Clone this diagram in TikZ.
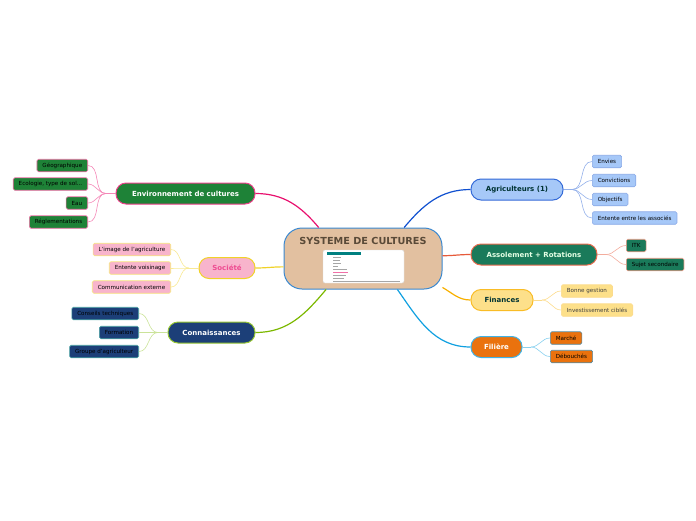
\documentclass[tikz,border=0pt]{standalone}
\usepackage{fontspec}
\setmainfont{DejaVu Sans}
\usetikzlibrary{arrows.meta,positioning,calc}
\definecolor{envgreen}{RGB}{30,130,55}
\definecolor{envpink}{RGB}{232,16,110}
\definecolor{socpink}{RGB}{248,180,204}
\definecolor{socyellow}{RGB}{240,210,40}
\definecolor{connblue}{RGB}{28,63,120}
\definecolor{conngreen}{RGB}{124,184,0}
\definecolor{agrblue}{RGB}{166,200,248}
\definecolor{agrline}{RGB}{16,80,208}
\definecolor{assteal}{RGB}{26,122,90}
\definecolor{assorange}{RGB}{230,90,58}
\definecolor{finyellow}{RGB}{253,224,138}
\definecolor{finline}{RGB}{248,176,0}
\definecolor{filorange}{RGB}{234,114,14}
\definecolor{filcyan}{RGB}{16,160,224}
\definecolor{systan}{RGB}{226,192,160}
\definecolor{sysblue}{RGB}{58,136,208}
\definecolor{systext}{RGB}{90,74,56}

\begin{document}
\begin{tikzpicture}[x=1pt,y=-1pt,
  topic/.style={draw,rounded corners=10pt,line width=1pt,minimum height=21pt,inner xsep=8pt,font=\fontsize{7}{8}\selectfont\bfseries},
  leaf/.style={draw,rounded corners=1.5pt,line width=0.6pt,minimum height=12.5pt,inner xsep=5.5pt,inner ysep=1pt,font=\fontsize{5.6}{6.5}\selectfont},
  link/.style={line width=1.2pt},
  twig/.style={line width=0.6pt}]
  \useasboundingbox (0,0) rectangle (696,520);

  % centre
  \node[draw=sysblue,fill=systan,line width=1pt,rounded corners=18pt,minimum width=158pt,minimum height=61pt] (sys) at (363,258.5) {};
  \node[font=\fontsize{9.7}{11}\selectfont\bfseries,text=systext] (systitle) at (363,240.5) {SYSTEME DE CULTURES};
  \node[draw=black!15,fill=white,rounded corners=2pt,minimum width=81pt,minimum height=33pt] (sysimg) at (363.5,266.5) {};
  \fill[teal] (327,252) rectangle (361,254.5);
  \foreach \y/\w in {257/8,260/7,263/8,266/5,269/14,272/15,275/13,278/11}
    \draw[black!35,line width=0.5pt] (333,\y) -- ++(\w,0);
  \draw[envpink!60,line width=0.5pt] (333,272) -- ++(15,0);
  \draw[black!35,line width=0.5pt] (333,281) -- (400,281);

  % topics
  \node[topic,fill=envgreen,draw=envpink!80,text=white,minimum width=139pt] (env) at (185.5,193.5) {Environnement de cultures};
  \node[topic,fill=socpink,draw=socyellow,text=envpink!75,minimum width=56pt] (soc) at (227,268) {Société};
  \node[topic,fill=connblue,draw=conngreen!80,text=white,minimum width=87pt] (conn) at (211.5,332.5) {Connaissances};
  \node[topic,fill=agrblue,draw=agrline!85,text=teal!40!black,minimum width=92pt] (agr) at (517,189.5) {Agriculteurs (1)};
  \node[topic,fill=assteal,draw=assorange!90,text=green!10,minimum width=126pt] (ass) at (534,254.5) {Assolement + Rotations};
  \node[topic,fill=finyellow,draw=finline!85,text=teal!40!black,minimum width=62pt] (fin) at (502,300) {Finances};
  \node[topic,fill=filorange,draw=filcyan!80,text=white,minimum width=51pt] (fil) at (496.5,347) {Filière};

  \draw[link,envpink] (sys.145) to[out=130,in=0] (env.east);
  \draw[link,socyellow] (sys.186) to[out=180,in=0] (soc.east);
  \draw[link,conngreen] (sys.220) to[out=230,in=0] (conn.east);
  \draw[link,agrline] (sys.37) to[out=50,in=180] (agr.west);
  \draw[link,assorange] (sys.2) to[out=0,in=180] (ass.west);
  \draw[link,finline] (sys.340) to[out=-30,in=180] (fin.west);
  \draw[link,filcyan] (sys.318) to[out=-55,in=180] (fil.west);

  % leaves left
  \node[leaf,anchor=east,fill=envgreen,draw=envpink!60] (geo) at (88,165.5) {Géographique};
  \node[leaf,anchor=east,fill=envgreen,draw=envpink!60] (eco) at (88,184) {Ecologie, type de sol...};
  \node[leaf,anchor=east,fill=envgreen,draw=envpink!60] (eau) at (88,203) {Eau};
  \node[leaf,anchor=east,fill=envgreen,draw=envpink!60] (regl) at (88,222) {Réglementations};
  \coordinate (envj) at (106,193.5);
  \draw[twig,envpink!50] (env.west) -- (envj);
  \foreach \n in {geo,eco,eau,regl}
    \draw[twig,envpink!50] (envj) to[out=180,in=0] (\n.east);

  \node[leaf,anchor=east,fill=socpink,draw=socyellow!60] (image) at (171,249.5) {L'image de l'agriculture};
  \node[leaf,anchor=east,fill=socpink,draw=socyellow!60] (voisin) at (171,268) {Entente voisinage};
  \node[leaf,anchor=east,fill=socpink,draw=socyellow!60] (comm) at (171,287) {Communication externe};
  \coordinate (socj) at (189,268);
  \draw[twig,socyellow!50] (soc.west) -- (socj);
  \foreach \n in {image,voisin,comm}
    \draw[twig,socyellow!50] (socj) to[out=180,in=0] (\n.east);

  \node[leaf,anchor=east,fill=connblue,draw=teal!70] (conseil) at (139,313.5) {Conseils techniques};
  \node[leaf,anchor=east,fill=connblue,draw=teal!70] (form) at (139,332.5) {Formation};
  \node[leaf,anchor=east,fill=connblue,draw=teal!70] (groupe) at (139,351.5) {Groupe d'agriculteur};
  \coordinate (connj) at (158,332.5);
  \draw[twig,conngreen!40] (conn.west) -- (connj);
  \foreach \n in {conseil,form,groupe}
    \draw[twig,conngreen!40] (connj) to[out=180,in=0] (\n.east);

  % leaves right
  \node[leaf,anchor=west,fill=agrblue,draw=agrline!50] (envies) at (592,161.5) {Envies};
  \node[leaf,anchor=west,fill=agrblue,draw=agrline!50] (conv) at (592,180.5) {Convictions};
  \node[leaf,anchor=west,fill=agrblue,draw=agrline!50] (obj) at (592,199.5) {Objectifs};
  \node[leaf,anchor=west,fill=agrblue,draw=agrline!50] (assoc) at (592,218) {Entente entre les associés};
  \coordinate (agrj) at (572,189.5);
  \draw[twig,agrline!45] (agr.east) -- (agrj);
  \foreach \n in {envies,conv,obj,assoc}
    \draw[twig,agrline!45] (agrj) to[out=0,in=180] (\n.west);

  \node[leaf,anchor=west,fill=assteal,draw=assorange!60] (itk) at (626,245.5) {ITK};
  \node[leaf,anchor=west,fill=assteal,draw=assorange!60] (sujet) at (626,264.5) {Sujet secondaire};
  \coordinate (assj) at (606,254.5);
  \draw[twig,assorange!50] (ass.east) -- (assj);
  \foreach \n in {itk,sujet}
    \draw[twig,assorange!50] (assj) to[out=0,in=180] (\n.west);

  \node[leaf,anchor=west,fill=finyellow,draw=finline!45,text=black!75] (gestion) at (561,291) {Bonne gestion};
  \node[leaf,anchor=west,fill=finyellow,draw=finline!45,text=black!75] (invest) at (561,310) {Investissement ciblés};
  \coordinate (finj) at (542,300);
  \draw[twig,finline!45] (fin.east) -- (finj);
  \foreach \n in {gestion,invest}
    \draw[twig,finline!45] (finj) to[out=0,in=180] (\n.west);

  \node[leaf,anchor=west,fill=filorange,draw=filcyan!40!gray] (marche) at (550,338) {Marché};
  \node[leaf,anchor=west,fill=filorange,draw=filcyan!40!gray] (debouche) at (550,356.5) {Débouchés};
  \coordinate (filj) at (531,347);
  \draw[twig,filcyan!50] (fil.east) -- (filj);
  \foreach \n in {marche,debouche}
    \draw[twig,filcyan!50] (filj) to[out=0,in=180] (\n.west);
\end{tikzpicture}
\end{document}
